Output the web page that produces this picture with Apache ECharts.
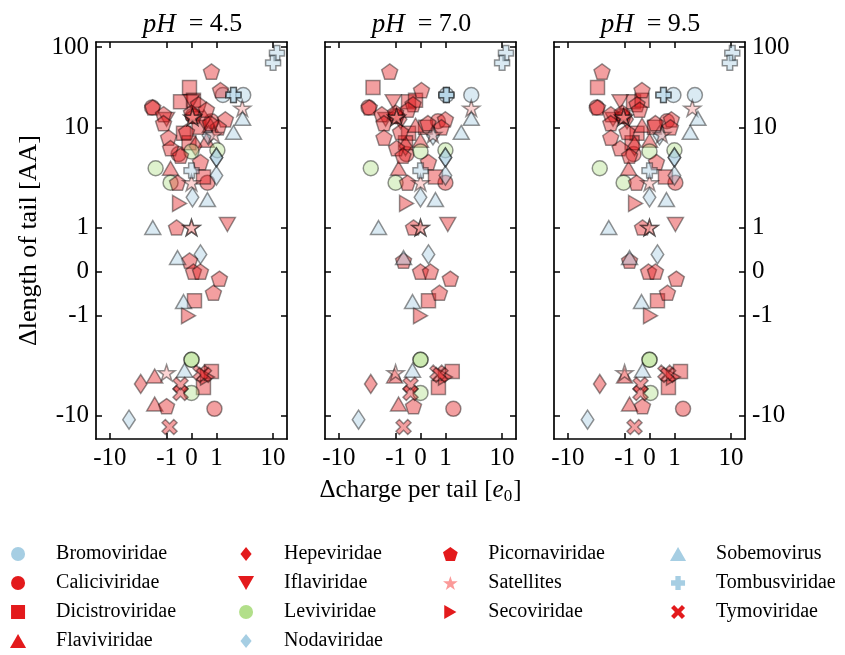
<!DOCTYPE html>
<html>
<head>
<meta charset="utf-8">
<script src="https://cdn.jsdelivr.net/npm/echarts@6/dist/echarts.min.js"></script>
<style>
  html, body { margin: 0; padding: 0; background: #fff; }
  #chart { width: 845px; height: 655px; }
</style>
</head>
<body>
<div id="chart"></div>
<script>
  // axis ticks / panels
  const phLabels = ['4.5', '7.0', '9.5']
  const xTickValues = [-10, -1, 0, 1, 10]
  const xTickLabels = ['-10', '-1', '0', '1', '10']
  const yTickValues = [-10, -1, 0, 1, 10, 63]
  const yTickLabels = ['-10', '-1', '0', '1', '10', '100']
  const xRange = [-17.6, 17.6]
  const yRange = [-17, 71]

  // data: length of tail, charge per tail at pH 4.5 / 7.0 / 9.5
  const lenBromo = [21, 21]
  const chgBromo = [[2.97, 1.3], [2.86, 1.04], [2.3, 0.96]]

  const lenCalici = [15.8, 5.4, 2.8, -8.5, 11.5, 13]
  const chgCalici = [
    [-1.8, -0.52, 0.64, 0.92, 0.8, 0.05],
    [-3.0, -0.56, 1.0, 1.38, 0.7, -1.0],
    [-3.1, -0.64, 1.04, 1.42, 0.7, -1.1]
  ]

  const lenDicistro = [25, 18, 18.6, 8.7, 3.2, -0.66, -3.6, -5.2, 10, 7]
  const chgDicistro = [
    [-0.08, -0.44, 0.08, -0.32, 0.48, 0.12, 0.8, 0.48, 0.3, -0.1],
    [-2.5, -0.48, -0.2, -0.48, 0.6, 0.32, 1.32, 0.72, 0.2, -0.6],
    [-3.0, -0.64, -0.3, -0.5, 0.64, 0.32, 1.28, 0.76, 0.2, -0.7]
  ]

  const lenFlavi = [3.9, 7.4, -4.0, -7.6, 10.5]
  const chgFlavi = [
    [-0.84, 0.6, -1.62, -1.62, 0.76],
    [-0.88, 0, -1.04, -0.88, -0.2],
    [-0.84, 0, -1.0, -0.8, -0.3]
  ]

  const lenHepe = [-4.8, 6.5, 12]
  const chgHepe = [[-2.86, 0.16, 0.5], [-2.74, -0.6, -0.8], [-2.74, -0.6, -0.9]]

  const lenIflavi = [1.07, 18, 12]
  const chgIflavi = [[1.56, 0, -1.0], [1.1, -1.1, -1.5], [1.04, -1.2, -1.6]]

  const lenLevi = [3.9, 2.8, 5.75, 5.9, -2.75, -2.75, -5.9]
  const chgLevi = [
    [-1.56, -0.84, 0, 1.04, 0, 0, 0],
    [-2.74, -1.0, 0, 1.0, 0, 0, 0],
    [-2.74, -1.04, 0, 1.0, 0, 0, 0.04]
  ]

  const lenNoda = [5.0, 5.0, 3.3, 2.0, 0.39, -10.9, 8.3]
  const chgNoda = [
    [1.0, 1.0, 1.0, 0.04, 0.36, -4.6, 0.68],
    [1.0, 1.0, 1.0, 0, 0.32, -4.5, 0.5],
    [1.0, 1.0, 1.0, 0, 0.32, -4.5, 0.4]
  ]

  const lenPicorna = [36, 23.5, 15.8, 13.5, 11, 7.9, 6.2, 5.2, 17, 15, 12, 10, 11, 4.5, 2.8, 1.0, 0.25, 0, 0, -0.16, -0.48, -8.0, 9, 13, 14]
  const chgPicorna = [
    [0.8, 1.18, -1.75, -1.13, -1.13, -0.92, -0.84, -0.44, 0.28, 0.6, 1.44, 1.08, 0.76, 0.36, -0.56, -0.6, -0.08, 0.08, 0.36, 1.13, 0.88, -1.0, -0.2, 0.1, 0.0],
    [-1.27, 0.04, -2.9, -1.75, -1.6, -1.6, -0.96, -0.7, -0.3, -0.5, 1.0, 0.84, 0.3, 0.32, -0.52, -0.28, -0.68, 0, 0.4, 1.22, 0.76, -0.28, -0.8, -0.96, -1.0],
    [-2.5, -0.3, -3.0, -1.75, -1.75, -1.75, -1.2, -0.8, -0.5, -0.4, 0.88, 0.84, 0.24, 0.28, -0.52, -0.28, -0.8, -0.04, 0.24, 1.08, 0.72, -0.28, -0.9, -1.04, -1.1]
  ]

  const lenSatellites = [15.5, 2.8, 1.0, 1.0, -3.7, 12.6, 12.6, 8.5]
  const chgSatellites = [
    [2.86, 0, 0, 0, -1.0, 0.04, 0.04, 0.9],
    [2.86, 0, 0, 0, -1.0, -0.96, -0.96, 0.5],
    [2.07, 0, 0, 0, -1.0, -1.04, -1.04, 0.5]
  ]

  const lenSeco = [1.74, -1.0, -4.1]
  const chgSeco = [[-0.48, -0.12, 0.64], [-0.56, 0, 1.0], [-0.56, 0.04, 0.96]]

  const lenSobemo = [12.3, 8.9, 1.9, 1.0, 0.32, -0.68, -3.5]
  const chgSobemo = [
    [2.9, 2.0, 0.64, -1.75, -0.56, -0.32, -0.28],
    [2.86, 1.9, 0.6, -2.0, -0.68, -0.32, -0.32],
    [2.6, 1.9, 0.68, -1.9, -0.8, -0.32, -0.28]
  ]

  const lenTombus = [55, 44, 21, 21, 3.7]
  const chgTombus = [[11.7, 10, 2.0, 2.0, 0], [11.7, 10, 1.04, 1.04, 0], [10.5, 9.5, 0.56, 0.56, 0]]

  const lenTymo = [-3.7, -3.9, -4.9, -5.9, -12.9]
  const chgTymo = [
    [0.36, 0.5, -0.44, -0.44, -0.88],
    [0.68, 0.8, -0.4, -0.4, -0.68],
    [0.64, 0.75, -0.36, -0.36, -0.6]
  ]

  // 样式
  const FONT = '"Liberation Serif", "DejaVu Serif", serif'
  const BLUE = '#a6cee3'
  const RED = '#e31a1c'
  const GREEN = '#b2df8a'
  const PINK = '#fb9a99'
  const SYM = {
    circle: 'circle',
    square: 'path://M0,0H100V100H0Z',
    triUp: 'path://M50,0L100,87L0,87Z',
    triDown: 'path://M0,0L100,0L50,87Z',
    triRight: 'path://M0,0L87,50L0,100Z',
    diamond: 'path://M33,0L66,50L33,100L0,50Z',
    wideDiamond: 'path://M40,0L80,50L40,100L0,50Z',
    pentagon: 'path://M50,0L97.6,34.5L79.4,90.5L20.6,90.5L2.4,34.5Z',
    star: 'path://M50,0L61.2,34.5L97.6,34.5L68.2,55.9L79.4,90.5L50,69.1L20.6,90.5L31.8,55.9L2.4,34.5L38.8,34.5Z',
    plus: 'path://M31,0H69V31H100V69H69V100H31V69H0V31H31Z',
    cross: 'path://M22,0L50,28L78,0L100,22L72,50L100,78L78,100L50,72L22,100L0,78L28,50L0,22Z'
  }

  const families = [
    { name: 'Bromoviridae', color: BLUE, symbol: SYM.circle, size: 15, len: lenBromo, chg: chgBromo },
    { name: 'Caliciviridae', color: RED, symbol: SYM.circle, size: 15, len: lenCalici, chg: chgCalici },
    { name: 'Dicistroviridae', color: RED, symbol: SYM.square, size: 14, len: lenDicistro, chg: chgDicistro },
    { name: 'Flaviviridae', color: RED, symbol: SYM.triUp, size: 16, len: lenFlavi, chg: chgFlavi },
    { name: 'Hepeviridae', color: RED, symbol: SYM.diamond, size: 19, len: lenHepe, chg: chgHepe },
    { name: 'Iflaviridae', color: RED, symbol: SYM.triDown, size: 16, len: lenIflavi, chg: chgIflavi },
    { name: 'Leviviridae', color: GREEN, symbol: SYM.circle, size: 15, len: lenLevi, chg: chgLevi },
    { name: 'Nodaviridae', color: BLUE, symbol: SYM.diamond, size: 19, len: lenNoda, chg: chgNoda },
    { name: 'Picornaviridae', color: RED, symbol: SYM.pentagon, size: 16, len: lenPicorna, chg: chgPicorna },
    { name: 'Satellites', color: PINK, symbol: SYM.star, size: 17, len: lenSatellites, chg: chgSatellites },
    { name: 'Secoviridae', color: RED, symbol: SYM.triRight, size: 16, len: lenSeco, chg: chgSeco },
    { name: 'Sobemovirus', color: BLUE, symbol: SYM.triUp, size: 16, len: lenSobemo, chg: chgSobemo },
    { name: 'Tombusviridae', color: BLUE, symbol: SYM.plus, size: 15, len: lenTombus, chg: chgTombus },
    { name: 'Tymoviridae', color: RED, symbol: SYM.cross, size: 15, len: lenTymo, chg: chgTymo }
  ]

  // symlog 变换
  const LIN = 0.44
  const symlog = (v) => {
    const a = Math.abs(v)
    return Math.sign(v) * (a <= 1 ? a * LIN : LIN + Math.log10(a))
  }
  const xTickPos = xTickValues.map(symlog)
  const yTickPos = yTickValues.map(symlog)
  const labelOf = (pos, labels) => (v) => {
    const i = pos.findIndex((p) => Math.abs(p - v) < 1e-6)
    return i < 0 ? '' : labels[i]
  }

  const grids = [96, 325, 554].map((left) => ({ left, top: 42, width: 191, height: 397 }))
  const lineStyle = { color: '#000', width: 1.7 }
  const tickStyle = { color: '#000', width: 1.5 }

  const xAxes = []
  const yAxes = []
  grids.forEach((g, i) => {
    ;['bottom', 'top'].forEach((position) => {
      xAxes.push({
        gridIndex: i,
        type: 'value',
        position,
        min: symlog(xRange[0]),
        max: symlog(xRange[1]),
        axisLine: { show: true, onZero: false, lineStyle },
        axisTick: { show: true, inside: true, length: 6, lineStyle: tickStyle, customValues: xTickPos },
        axisLabel: {
          show: position === 'bottom',
          customValues: xTickPos,
          formatter: labelOf(xTickPos, xTickLabels),
          fontFamily: FONT,
          fontSize: 25,
          color: '#000',
          margin: 7
        },
        splitLine: { show: false }
      })
    })
    ;['left', 'right'].forEach((position) => {
      yAxes.push({
        gridIndex: i,
        type: 'value',
        position,
        min: symlog(yRange[0]),
        max: symlog(yRange[1]),
        axisLine: { show: true, onZero: false, lineStyle },
        axisTick: { show: true, inside: true, length: 6, lineStyle: tickStyle, customValues: yTickPos },
        axisLabel: {
          show: (i === 0 && position === 'left') || (i === 2 && position === 'right'),
          customValues: yTickPos,
          formatter: labelOf(yTickPos, yTickLabels),
          fontFamily: FONT,
          fontSize: 25,
          color: '#000',
          margin: 7
        },
        splitLine: { show: false }
      })
    })
  })

  xAxes[2].name = '{n|Δcharge per tail [}{i|e}{s|0}{n|]}'
  xAxes[2].nameLocation = 'middle'
  xAxes[2].nameGap = 37
  xAxes[2].nameTextStyle = {
    rich: {
      n: { fontFamily: FONT, fontSize: 25, color: '#000' },
      i: { fontFamily: FONT, fontSize: 25, fontStyle: 'italic', color: '#000' },
      s: { fontFamily: FONT, fontSize: 17, color: '#000', padding: [12, 1, 0, 0] }
    }
  }
  yAxes[0].name = 'Δlength of tail [AA]'
  yAxes[0].nameLocation = 'middle'
  yAxes[0].nameGap = 54
  yAxes[0].nameTextStyle = { fontFamily: FONT, fontSize: 26, color: '#000' }

  const series = []
  grids.forEach((g, p) => {
    families.forEach((f) => {
      series.push({
        type: 'scatter',
        name: f.name,
        xAxisIndex: p * 2,
        yAxisIndex: p * 2,
        symbol: f.symbol,
        symbolSize: f.size,
        symbolKeepAspect: true,
        data: f.len.map((y, k) => [symlog(f.chg[p][k]), symlog(y)]),
        itemStyle: { color: f.color, borderColor: '#000', borderWidth: 1.5, opacity: 0.42 },
        emphasis: { disabled: true }
      })
    })
  })

  // 图例：四列
  const legendCols = [
    { left: 10, names: ['Bromoviridae', 'Caliciviridae', 'Dicistroviridae', 'Flaviviridae'] },
    { left: 238, names: ['Hepeviridae', 'Iflaviridae', 'Leviviridae', 'Nodaviridae'] },
    { left: 443, names: ['Picornaviridae', 'Satellites', 'Secoviridae'] },
    { left: 670, names: ['Sobemovirus', 'Tombusviridae', 'Tymoviridae'] }
  ]
  const legendIcon = (name) => {
    const f = families.find((i) => i.name === name)
    return f.symbol === SYM.diamond ? SYM.wideDiamond : f.symbol
  }
  const legend = legendCols.map((c) => ({
    orient: 'vertical',
    left: c.left,
    top: 544,
    padding: 0,
    itemWidth: 38,
    itemHeight: 14,
    itemGap: 9,
    data: c.names.map((name) => ({ name, icon: legendIcon(name) })),
    itemStyle: { opacity: 1, borderWidth: 0 },
    textStyle: { fontFamily: FONT, fontSize: 20, color: '#000', lineHeight: 20, padding: [0, 0, 0, 14] }
  }))

  const title = phLabels.map((ph, i) => ({
    text: `{i|pH}  = ${ph}`,
    left: grids[i].left + grids[i].width / 2 - 4,
    top: 6,
    textAlign: 'center',
    textStyle: {
      fontFamily: FONT,
      fontSize: 26,
      fontWeight: 'normal',
      color: '#000',
      rich: { i: { fontFamily: FONT, fontSize: 27, fontStyle: 'italic', color: '#000' } }
    }
  }))

  const chart = echarts.init(document.getElementById('chart'))
  chart.setOption({
    animation: false,
    backgroundColor: '#fff',
    title,
    legend,
    grid: grids,
    xAxis: xAxes,
    yAxis: yAxes,
    series
  })
</script>
</body>
</html>
